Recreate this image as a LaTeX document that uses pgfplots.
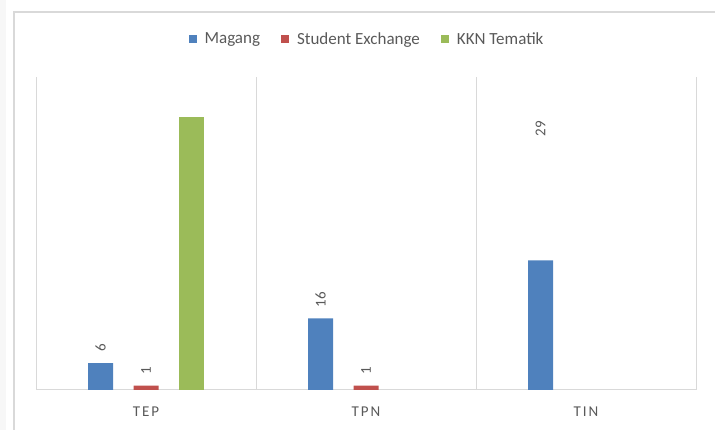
\documentclass[border=0pt]{standalone}
\usepackage{fontspec}
\setmainfont{Carlito}
\usepackage{pgfplots}
\usepackage{pgfplotstable}
\pgfplotsset{compat=1.18}
\definecolor{cMag}{HTML}{4F81BD}
\definecolor{cSE}{HTML}{C0504D}
\definecolor{cKKN}{HTML}{9BBB59}
\definecolor{txt}{HTML}{595959}
\definecolor{gridc}{HTML}{D9D9D9}

\pgfplotstableread{
x y dy lab
0 6 11 6
1 16 11 16
2 29 123.7 29
}\magang
\pgfplotstableread{
x y dy lab
0 1 11 1
1 1 11 1
}\studex
\pgfplotstableread{
x y
0 61
}\kkn

\begin{document}
\begin{tikzpicture}
\fill[gray!6] (0,0) rectangle (6bp,430bp);
\path[use as bounding box] (0,0) rectangle (715bp,430bp);
\draw[gridc, line width=2.5bp] (14bp,-2bp) -- (14bp,418bp) -- (717bp,418bp);
\begin{axis}[
  at={(36bp,40bp)}, anchor=south west,
  scale only axis, width=660bp, height=313bp,
  xmin=-0.5, xmax=2.5, ymin=0, ymax=70,
  axis x line*=bottom, axis y line=none,
  ybar=20.5bp, bar width=25bp,
  xtick={0,1,2}, xticklabels={TEP,TPN,TIN},
  major tick length=0, minor tick length=0,
  minor xtick={-0.5,0.5,1.5,2.5}, xminorgrids=true,
  minor x grid style={gridc, line width=1bp},
  x axis line style={gridc, line width=1bp},
  xticklabel style={font=\fontsize{15bp}{18bp}\selectfont\addfontfeature{LetterSpace=13}, text=txt, anchor=base, yshift=-27bp},
  clip=false,
  legend style={at={(0.5,1)}, anchor=center, yshift=38bp, draw=none, fill=none,
    font=\fontsize{17bp}{20bp}\selectfont, text=txt,
    /tikz/every even column/.append style={column sep=21bp},
    /tikz/every odd column/.append style={column sep=8bp},
    nodes={inner sep=0pt}},
  legend columns=-1,
  legend image code/.code={\fill[#1] (0bp,-4bp) rectangle (8bp,4bp);},
  every node near coord/.append style={font=\fontsize{15bp}{18bp}\selectfont, text=txt},
]
\addplot[fill=cMag, draw=none, nodes near coords, point meta=explicit symbolic,
  visualization depends on={\thisrow{dy} \as \dy},
  every node near coord/.append style={yshift=\dy bp, rotate=90, anchor=west, inner sep=0pt}]
  table[x=x, y=y, meta=lab]{\magang};
\addlegendentry{Magang}
\addplot[fill=cSE, draw=none, nodes near coords, point meta=explicit symbolic,
  visualization depends on={\thisrow{dy} \as \dy},
  every node near coord/.append style={yshift=\dy bp, rotate=90, anchor=west, inner sep=0pt}]
  table[x=x, y=y, meta=lab]{\studex};
\addlegendentry{Student Exchange}
\addplot[fill=cKKN, draw=none] table[x=x, y=y]{\kkn};
\addlegendentry{KKN Tematik}
\end{axis}
\end{tikzpicture}
\end{document}
